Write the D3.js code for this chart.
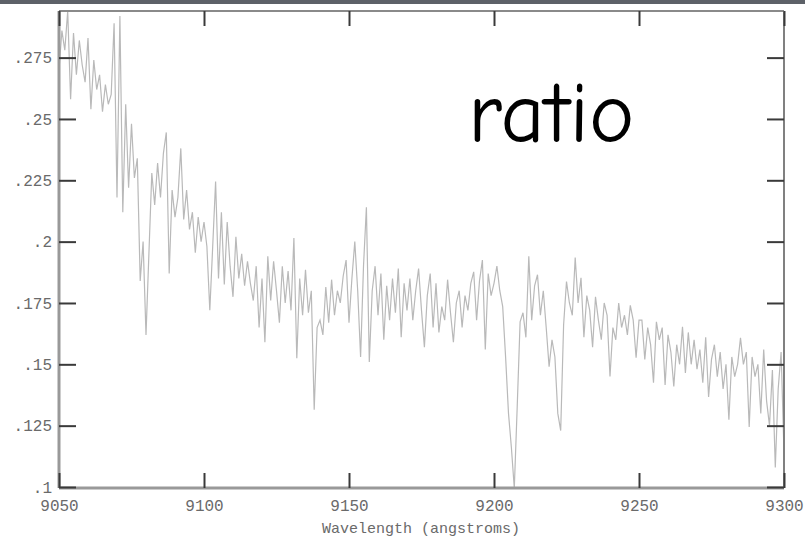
<html>
<head>
    <script src="https://d3js.org/d3.v7.min.js"></script>
    <style>
        body { margin: 0; background: white; }
        .tick text { font-family: "Liberation Mono", monospace; font-size: 16px; fill: #6a6a6a; }
        .domain { display: none; }
    </style>
</head>
<body>
<script>
    // spectrum, one sample per angstrom from 9050
    var startWavelength = 9050;
    var stepWavelength = 1;
    var ratio = [
        .270, .286, .278, .294, .258, .285, .268, .282, .272, .265,
        .283, .254, .274, .262, .268, .253, .264, .256, .260, .289,
        .218, .292, .212, .256, .222, .248, .226, .234, .184, .200,
        .162, .195, .228, .215, .232, .218, .236, .2445, .187, .221,
        .210, .218, .238, .209, .221, .205, .212, .1955, .210, .200,
        .208, .198, .172, .198, .2245, .185, .212, .1825, .208, .190,
        .1775, .202, .185, .195, .182, .192, .183, .176, .190, .165,
        .185, .159, .194, .176, .192, .180, .167, .190, .175, .188,
        .172, .2015, .1525, .185, .170, .1885, .171, .180, .1315, .165,
        .168, .162, .1815, .167, .1845, .170, .180, .175, .186, .1925,
        .167, .185, .200, .180, .153, .190, .214, .151, .180, .190,
        .170, .187, .160, .182, .168, .185, .171, .189, .161, .183,
        .172, .185, .168, .180, .189, .172, .157, .178, .187, .165,
        .183, .163, .1735, .168, .1845, .171, .159, .175, .180, .165,
        .178, .172, .183, .1877, .168, .184, .1925, .156, .187, .178,
        .183, .190, .180, .1735, .153, .130, .116, .0995, .1326, .1673,
        .171, .161, .194, .168, .182, .1865, .170, .180, .165, .149,
        .160, .153, .130, .123, .166, .1837, .175, .170, .1935, .175,
        .1853, .161, .178, .172, .157, .1775, .168, .160, .175, .170,
        .145, .165, .160, .175, .165, .170, .162, .174, .168, .1527,
        .168, .168, .152, .165, .158, .1425, .1673, .160, .165, .1416,
        .162, .155, .141, .158, .150, .1653, .1465, .163, .150, .160,
        .148, .156, .1425, .161, .1367, .152, .158, .145, .155, .140,
        .150, .1274, .153, .145, .150, .1608, .150, .155, .1245, .153,
        .145, .150, .130, .156, .135, .125, .1477, .108, .140, .155,
        .114
    ];
    var xTicks = [9050, 9100, 9150, 9200, 9250, 9300];
    var yTicks = [0.1, 0.125, 0.15, 0.175, 0.2, 0.225, 0.25, 0.275];
    var xTitle = "Wavelength (angstroms)";
    var note = "ratio";

    var width = 805, height = 546;
    var plotLeft = 59, plotRight = 784, plotTop = 11, plotBottom = 487;

    var svg = d3.select("body").append("svg").attr("width", width).attr("height", height);

    // dark strip along the top edge
    svg.append("rect").attr("x", 0).attr("y", 0).attr("width", width).attr("height", 4).attr("fill", "#5d6168");

    var x = d3.scaleLinear().domain([9050, 9300]).range([plotLeft, plotRight]);
    var y = d3.scaleLinear().domain([0.1, 0.294]).range([plotBottom, plotTop]);

    var line = d3.line()
        .x(function(d, i) { return x(startWavelength + i * stepWavelength); })
        .y(function(d) { return y(d); });

    svg.append("path").datum(ratio).attr("d", line)
        .attr("fill", "none").attr("stroke", "#b9b9b9").attr("stroke-width", 1.2);

    // frame
    svg.append("line").attr("x1", plotLeft).attr("x2", plotRight).attr("y1", plotTop).attr("y2", plotTop)
        .attr("stroke", "#8a8a8a").attr("stroke-width", 2);
    svg.append("line").attr("x1", plotRight).attr("x2", plotRight).attr("y1", plotTop).attr("y2", plotBottom + 1)
        .attr("stroke", "#808080").attr("stroke-width", 2);
    svg.append("line").attr("x1", plotLeft).attr("x2", plotLeft).attr("y1", plotTop).attr("y2", plotBottom + 1)
        .attr("stroke", "#999").attr("stroke-width", 3);
    svg.append("line").attr("x1", plotLeft).attr("x2", plotRight).attr("y1", plotBottom + 1).attr("y2", plotBottom + 1)
        .attr("stroke", "#999").attr("stroke-width", 3);

    var fmt = function(d) { return String(d).replace(/^0/, ""); };

    svg.append("g").attr("transform", "translate(0," + (plotBottom + 1) + ")")
        .call(d3.axisBottom(x).tickValues(xTicks).tickSize(-15).tickPadding(12).tickFormat(d3.format("d")));
    svg.append("g").attr("transform", "translate(0," + plotTop + ")")
        .call(d3.axisTop(x).tickValues(xTicks).tickSize(-15).tickFormat(""));
    svg.append("g").attr("transform", "translate(" + plotLeft + ",0)")
        .call(d3.axisLeft(y).tickValues(yTicks).tickSize(-17).tickPadding(7).tickFormat(fmt));
    svg.append("g").attr("transform", "translate(" + plotRight + ",0)")
        .call(d3.axisRight(y).tickValues(yTicks).tickSize(-17).tickFormat(""));

    svg.selectAll(".tick line").attr("stroke", "#3a3a3a").attr("stroke-width", 2);

    svg.append("text").attr("x", 421).attr("y", 533).attr("text-anchor", "middle")
        .style("font-family", "Liberation Mono, monospace").style("font-size", "15px")
        .attr("fill", "#6a6a6a").text(xTitle);

    svg.append("text").attr("x", 468).attr("y", 142)
        .style("font-family", "'Comic Sans MS', 'Comic Neue', 'DejaVu Sans', sans-serif").style("font-size", "86px")
        .attr("fill", "#000").text(note);
</script>
</body>
</html>
